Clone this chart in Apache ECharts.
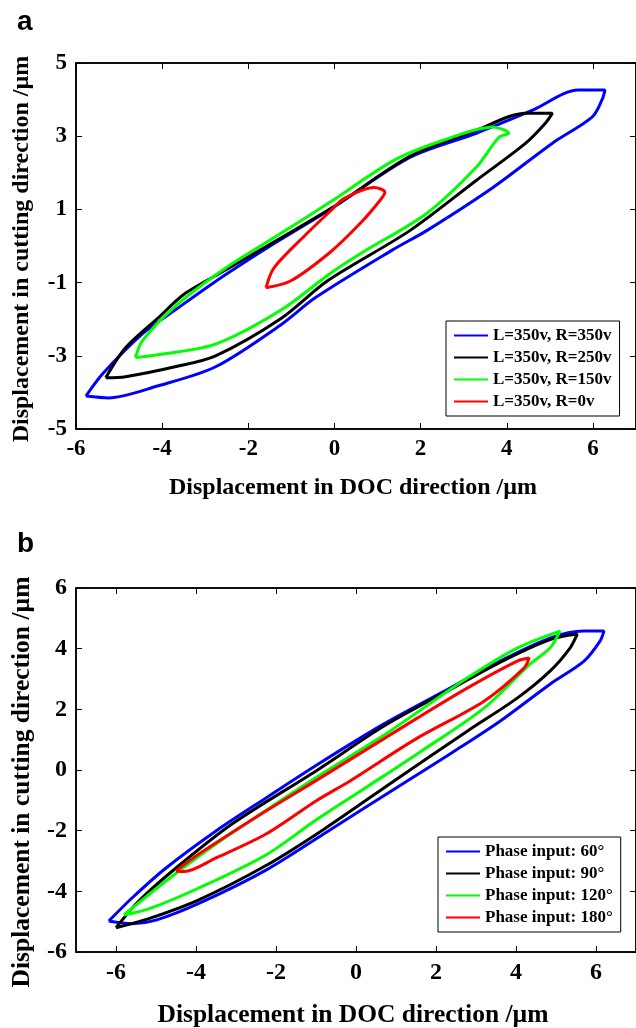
<!DOCTYPE html>
<html lang="en">
<head>
  <meta charset="UTF-8">
  <title>Displacement loops</title>
  <style>
    body {
      margin: 0;
      padding: 0;
      background-color: #fff;
    }
    #chart {
      width: 636px;
      height: 1028px;
    }
  </style>
  <script src="https://cdn.jsdelivr.net/npm/echarts@6/dist/echarts.min.js"></script>
</head>
<body>
  <div id="chart"></div>

  <script>
    // panel a: [DOC, cutting] loops
    var aBlue = [[-5.77, -4.10], [-5.38, -3.49], [-4.46, -2.40], [-3.70, -1.75], [-2.55, -0.80], [-1.40, 0.07],
      [-0.10, 1.00], [1.75, 2.42], [3.29, 3.08], [4.60, 3.71], [5.66, 4.26], [6.28, 4.26], [6.21, 3.99],
      [5.98, 3.52], [5.06, 2.81], [3.68, 1.60], [2.14, 0.42], [1.33, -0.12], [-0.44, -1.41], [-1.24, -2.15],
      [-2.76, -3.30], [-4.09, -3.82], [-5.24, -4.15], [-5.77, -4.10]];
    var aBlack = [[-5.31, -3.60], [-4.85, -2.78], [-4.09, -1.96], [-3.47, -1.30], [-2.55, -0.67], [-0.05, 1.05],
      [1.75, 2.45], [3.29, 3.16], [4.44, 3.63], [5.06, 3.63], [4.90, 3.36], [4.44, 2.81], [3.29, 1.79],
      [1.75, 0.42], [-0.16, -0.95], [-1.24, -1.98], [-2.76, -3.00], [-3.70, -3.30], [-4.85, -3.57], [-5.31, -3.60]];
    var aGreen = [[-4.62, -3.05], [-4.46, -2.59], [-3.70, -1.65], [-2.55, -0.62], [-1.40, 0.23], [-0.10, 1.20],
      [1.38, 2.34], [2.53, 2.89], [3.68, 3.25], [4.05, 3.08], [3.82, 2.97], [3.29, 2.15], [2.14, 0.89],
      [0.60, -0.21], [-0.10, -0.75], [-1.24, -1.75], [-2.76, -2.68], [-4.09, -2.97], [-4.62, -3.05]];
    var aRed = [[-1.59, -1.14], [-1.40, -0.59], [-0.64, 0.34], [-0.10, 0.95], [0.23, 1.30], [0.92, 1.60],
      [1.17, 1.47], [1.06, 1.25], [0.60, 0.62], [-0.10, -0.17], [-1.01, -0.95], [-1.59, -1.14]];

    // panel b
    var bBlue = [[-6.18, -4.98], [-5.60, -4.22], [-4.75, -3.23], [-3.50, -2.01], [-2.25, -0.92], [-1.00, 0.15],
      [0.70, 1.52], [2.35, 2.70], [3.60, 3.59], [4.85, 4.35], [5.70, 4.58], [6.20, 4.58], [6.10, 4.25],
      [5.70, 3.59], [4.85, 2.83], [3.60, 1.61], [2.35, 0.53], [1.28, -0.36], [-0.80, -2.10], [-2.25, -3.30],
      [-3.93, -4.40], [-5.00, -4.95], [-5.60, -5.07], [-6.18, -4.98]];
    var bBlack = [[-6.00, -5.20], [-5.43, -4.32], [-4.50, -3.23], [-3.10, -1.78], [-1.00, -0.03], [0.70, 1.45],
      [2.35, 2.65], [3.60, 3.55], [4.85, 4.30], [5.53, 4.48], [5.35, 4.02], [4.85, 3.26], [4.03, 2.37],
      [2.78, 1.28], [0.95, -0.36], [-0.80, -1.95], [-2.25, -3.15], [-3.93, -4.28], [-5.18, -4.90], [-6.00, -5.20]];
    var bGreen = [[-5.80, -4.78], [-4.75, -3.66], [-3.50, -2.44], [-1.00, -0.25], [0.70, 1.15], [2.78, 3.03],
      [4.03, 4.02], [5.10, 4.58], [4.85, 4.02], [4.35, 3.49], [3.20, 2.04], [1.53, 0.53], [0.28, -0.55],
      [-1.00, -1.65], [-2.25, -2.80], [-3.93, -3.89], [-5.18, -4.58], [-5.80, -4.78]];
    var bRed = [[-4.50, -3.33], [-3.93, -2.77], [-2.25, -1.35], [-1.00, -0.35], [1.53, 1.71], [2.78, 2.70],
      [4.03, 3.59], [4.33, 3.69], [4.20, 3.36], [3.20, 2.27], [1.53, 1.05], [-0.15, -0.36], [-1.00, -1.02],
      [-2.25, -2.11], [-3.50, -2.90], [-4.30, -3.35], [-4.50, -3.33]];

    var namesA = ['L=350v, R=350v', 'L=350v, R=250v', 'L=350v, R=150v', 'L=350v, R=0v'];
    var namesB = ['Phase input: 60°', 'Phase input: 90°', 'Phase input: 120°', 'Phase input: 180°'];
    var colors = ['#0000ff', '#000000', '#00ff00', '#ff0000'];

    var xTicksA = [-6, -4, -2, 0, 2, 4, 6];
    var yTicksA = [-5, -3, -1, 1, 3, 5];
    var xTicksB = [-6, -4, -2, 0, 2, 4, 6];
    var yTicksB = [-6, -4, -2, 0, 2, 4, 6];

    var serif = 'Liberation Serif';

    function axis(pos, grid, min, max, ticks, labels, size) {
      return {
        type: 'value',
        gridIndex: grid,
        position: pos,
        min: min,
        max: max,
        splitLine: { show: false },
        axisLine: { show: true, onZero: false, lineStyle: { color: '#000', width: 1.5 } },
        axisTick: { show: true, inside: true, length: 6, customValues: ticks, lineStyle: { color: '#000', width: 1 } },
        axisLabel: {
          show: labels,
          customValues: ticks,
          margin: 9,
          color: '#000',
          fontFamily: serif,
          fontWeight: 'bold',
          fontSize: size
        }
      };
    }

    function loop(name, data, color, xi, yi) {
      return {
        name: name,
        type: 'line',
        xAxisIndex: xi,
        yAxisIndex: yi,
        data: data,
        showSymbol: false,
        symbol: 'none',
        smooth: 0.3,
        color: color,
        lineStyle: { width: 3, color: color }
      };
    }

    function legendFor(names, left, top) {
      return {
        data: names,
        orient: 'vertical',
        left: left,
        top: top,
        icon: 'rect',
        itemWidth: 34,
        itemHeight: 2,
        itemGap: 5,
        padding: [6, 8],
        borderColor: '#000',
        borderWidth: 1,
        backgroundColor: '#fff',
        textStyle: { color: '#000', fontFamily: serif, fontWeight: 'bold', fontSize: 17, lineHeight: 17 }
      };
    }

    var chart = echarts.init(document.getElementById('chart'));
    chart.setOption({
      animation: false,
      backgroundColor: '#fff',
      grid: [
        { left: 76, top: 63, right: -5, height: 366, show: true, borderColor: '#000', borderWidth: 1.5 },
        { left: 76, top: 588, right: -1, height: 364, show: true, borderColor: '#000', borderWidth: 1.5 }
      ],
      xAxis: [
        axis('bottom', 0, -6, 7, xTicksA, true, 23),
        axis('top', 0, -6, 7, xTicksA, false, 23),
        axis('bottom', 1, -7, 7, xTicksB, true, 24),
        axis('top', 1, -7, 7, xTicksB, false, 24)
      ],
      yAxis: [
        axis('left', 0, -5, 5, yTicksA, true, 23),
        axis('right', 0, -5, 5, yTicksA, false, 23),
        axis('left', 1, -6, 6, yTicksB, true, 24),
        axis('right', 1, -6, 6, yTicksB, false, 24)
      ],
      legend: [legendFor(namesA, 446, 321), legendFor(namesB, 438, 837)],
      series: [
        loop(namesA[0], aBlue, colors[0], 0, 0),
        loop(namesA[1], aBlack, colors[1], 0, 0),
        loop(namesA[2], aGreen, colors[2], 0, 0),
        loop(namesA[3], aRed, colors[3], 0, 0),
        loop(namesB[0], bBlue, colors[0], 2, 2),
        loop(namesB[1], bBlack, colors[1], 2, 2),
        loop(namesB[2], bGreen, colors[2], 2, 2),
        loop(namesB[3], bRed, colors[3], 2, 2)
      ],
      graphic: [
        { type: 'text', left: 17, top: 8, style: { text: 'a', fill: '#000', font: 'bold 28px "Liberation Sans"' } },
        { type: 'text', left: 17, top: 530, style: { text: 'b', fill: '#000', font: 'bold 28px "Liberation Sans"' } },
        { type: 'text', x: 353, y: 488, style: { text: 'Displacement in DOC direction /\u00b5m', fill: '#000',
          font: 'bold 24px "Liberation Serif"', align: 'center', verticalAlign: 'middle' } },
        { type: 'text', x: 22, y: 249, rotation: Math.PI / 2, style: { text: 'Displacement in cutting direction /\u00b5m',
          fill: '#000', font: 'bold 24px "Liberation Serif"', align: 'center', verticalAlign: 'middle' } },
        { type: 'text', x: 353, y: 1015, style: { text: 'Displacement in DOC direction /\u00b5m', fill: '#000',
          font: 'bold 25.5px "Liberation Serif"', align: 'center', verticalAlign: 'middle' } },
        { type: 'text', x: 22, y: 782, rotation: Math.PI / 2, style: { text: 'Displacement in cutting direction /\u00b5m',
          fill: '#000', font: 'bold 25.5px "Liberation Serif"', align: 'center', verticalAlign: 'middle' } }
      ]
    });
  </script>
</body>
</html>
